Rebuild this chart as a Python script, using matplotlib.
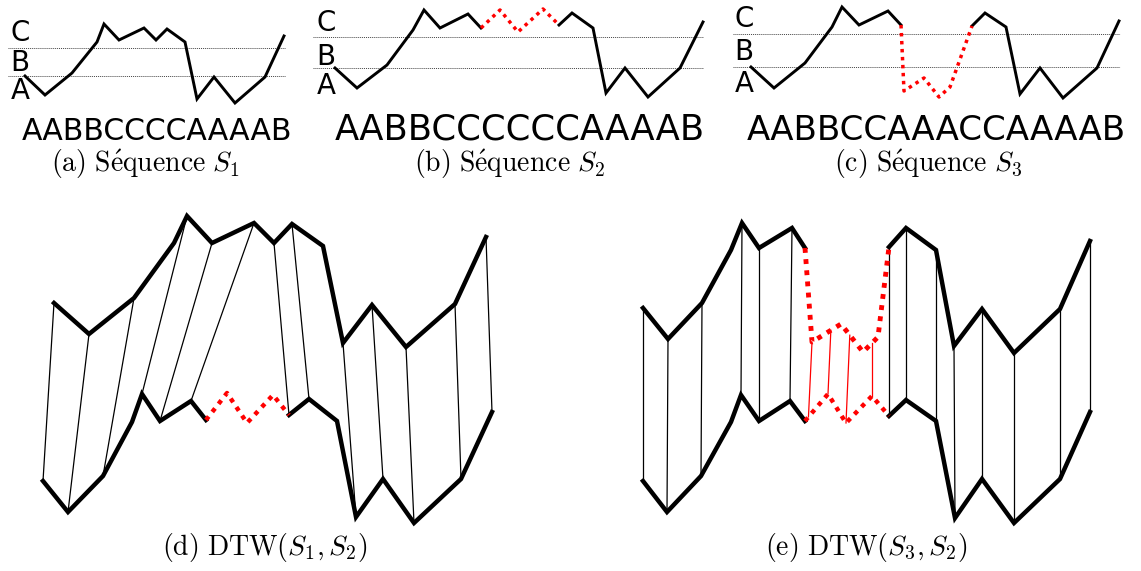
import numpy as np
import matplotlib
matplotlib.use("Agg")
import matplotlib.pyplot as plt

plt.rcParams['mathtext.fontset'] = 'cm'

# ---- top row : sequences (pixel units of the figure) ----
s1_x = [25, 45, 72, 97, 104, 119, 144, 156, 167, 185, 197, 214, 235, 265, 284]
s1_y = [76, 95, 73, 42, 24, 40, 28, 40, 29, 42, 99, 77, 103, 77, 36]

s2_x = [335, 357, 387, 413, 424, 440, 468, 481, 500, 518, 543, 559, 572, 593, 606, 625, 648, 680, 703]
s2_y = [68, 88, 65, 30, 10, 28, 14, 28, 10, 32, 9, 25, 13, 28, 93, 68, 97, 68, 22]

s3_x = [751, 774, 805, 832, 842, 859, 888, 901, 904, 924, 939, 950, 972, 985, 1006, 1020, 1040, 1063, 1097, 1119]
s3_y = [67, 88, 63, 27, 7, 25, 11, 25, 91, 78, 97, 87, 26, 13, 27, 94, 68, 98, 68, 21]

# red (inserted) part, vertex index range
s2_red = (7, 11)
s3_red = (7, 12)

seq_text = ["AABBCCCCAAAAB", "AABBCCCCCCAAAAB", "AABBCCAAACCAAAAB"]
captions_top = [r'$\mathrm{(a)\ S\acute{e}quence}\ S_1$',
                r'$\mathrm{(b)\ S\acute{e}quence}\ S_2$',
                r'$\mathrm{(c)\ S\acute{e}quence}\ S_3$']

# ---- bottom row : DTW alignments ----
d_top_x = [54, 89, 134, 174, 187, 212, 254, 274, 292, 323, 343, 372, 406, 455, 486]
d_top_y = [303, 334, 298, 243, 216, 243, 223, 243, 224, 246, 343, 305, 347, 304, 237]
d_bot_x = [43, 68, 103, 132, 142, 160, 191, 206, 227, 247, 273, 289, 309, 337, 356, 383, 414, 461, 492]
d_bot_y = [481, 512, 476, 422, 394, 421, 401, 420, 393, 423, 395, 415, 399, 421, 517, 479, 523, 479, 412]
d_pairs = [(0, 0), (1, 1), (2, 2), (4, 4), (5, 5), (6, 6), (7, 11), (8, 12),
           (10, 14), (11, 15), (12, 16), (13, 17), (14, 18)]

e_top_x = [643, 668, 702, 731, 742, 759, 792, 805, 812, 841, 863, 878, 889, 906, 936, 954, 982, 1014, 1060, 1090]
e_top_y = [308, 339, 303, 250, 223, 248, 228, 248, 342, 324, 352, 337, 247, 228, 250, 346, 309, 353, 309, 241]
e_bot_x = [643, 667, 701, 731, 741, 759, 790, 805, 828, 846, 872, 889, 906, 936, 955, 982, 1014, 1060, 1090]
e_bot_y = [481, 512, 476, 422, 395, 421, 401, 421, 394, 423, 396, 416, 400, 421, 518, 479, 523, 479, 412]
e_pairs = [(0, 0), (1, 1), (2, 2), (4, 4), (5, 5), (6, 6), (12, 11), (13, 12),
           (14, 13), (15, 14), (16, 15), (17, 16), (18, 17), (19, 18)]
e_red_pairs = [(8, 7.15), (8.65, 8), (9.4, 9), (10.6, 10)]


def at(xs, ys, t):
    idx = np.arange(len(xs))
    return np.interp(t, idx, xs), np.interp(t, idx, ys)


def curve(ax, xs, ys, red=None, lw=2.0, rlw=2.5):
    xs = np.array(xs); ys = np.array(ys)
    if red is None:
        ax.plot(xs, ys, color='black', lw=lw, solid_joinstyle='miter')
        return
    a, b = red
    ax.plot(xs[:a + 1], ys[:a + 1], color='black', lw=lw, solid_joinstyle='miter')
    ax.plot(xs[b:], ys[b:], color='black', lw=lw, solid_joinstyle='miter')
    ax.plot(xs[a:b + 1], ys[a:b + 1], color='red', lw=rlw, dashes=(1, 1.3),
            dash_capstyle='butt')


fig = plt.figure(figsize=(11.41, 5.71), dpi=100)
ax = fig.add_axes([0, 0, 1, 1])
ax.set_xlim(0, 1141)
ax.set_ylim(571, 0)
ax.axis('off')

# guide lines + level labels
guides = [(8, 285, 48, 76), (313, 703, 37, 68), (733, 1120, 34, 67)]
label_pos = [(20, [33, 63, 91]), (326, [23, 57, 86]), (744, [19, 52, 84])]
for (x0, x1, yb, ya), (lx, ly) in zip(guides, label_pos):
    for yy in (yb, ya):
        ax.plot([x0, x1], [yy, yy], color='#444444', lw=0.7, dashes=(1, 1))
    for lab, yy in zip("CBA", ly):
        ax.text(lx, yy, lab, fontsize=20, ha='center', va='center')

curve(ax, s1_x, s1_y, lw=2.1)
curve(ax, s2_x, s2_y, s2_red, lw=2.1)
curve(ax, s3_x, s3_y, s3_red, lw=2.1)

seq_pos = [(157, 131, 21.5), (520, 130, 25.5), (936, 130, 24.5)]
for txt, (tx, ty, fs) in zip(seq_text, seq_pos):
    ax.text(tx, ty, txt, fontsize=fs, ha='center', va='center')

for cap, cx in zip(captions_top, [146, 510, 928]):
    ax.text(cx, 164, cap, fontsize=20, ha='center', va='center')

# DTW (d)
for i, j in d_pairs:
    x0, y0 = at(d_top_x, d_top_y, i)
    x1, y1 = at(d_bot_x, d_bot_y, j)
    ax.plot([x0, x1], [y0, y1], color='black', lw=0.9)
curve(ax, d_top_x, d_top_y, lw=3.2)
curve(ax, d_bot_x, d_bot_y, (7, 11), lw=3.2, rlw=3.2)

# DTW (e)
for i, j in e_pairs:
    x0, y0 = at(e_top_x, e_top_y, i)
    x1, y1 = at(e_bot_x, e_bot_y, j)
    ax.plot([x0, x1], [y0, y1], color='black', lw=0.9)
for i, j in e_red_pairs:
    x0, y0 = at(e_top_x, e_top_y, i)
    x1, y1 = at(e_bot_x, e_bot_y, j)
    ax.plot([x0, x1], [y0, y1], color='red', lw=0.9)
curve(ax, e_top_x, e_top_y, (7, 12), lw=3.2, rlw=3.5)
curve(ax, e_bot_x, e_bot_y, (7, 11), lw=3.2, rlw=3.2)

ax.text(265, 548, r'$\mathrm{(d)\ DTW}(S_1, S_2)$', fontsize=20, ha='center', va='center')
ax.text(866, 548, r'$\mathrm{(e)\ DTW}(S_3, S_2)$', fontsize=20, ha='center', va='center')

fig.savefig('out.png', dpi=100)
